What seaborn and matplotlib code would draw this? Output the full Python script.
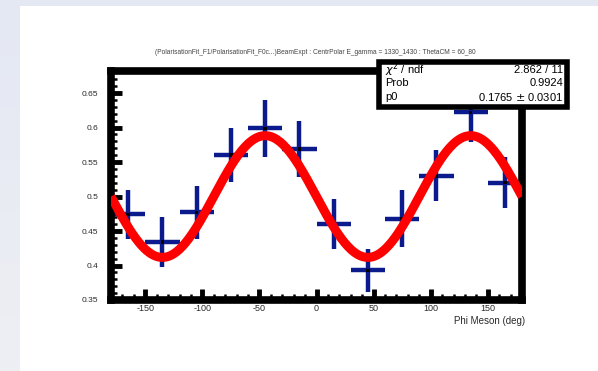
import numpy as np
import pandas as pd
import seaborn as sns
import matplotlib
matplotlib.use("Agg")
import matplotlib.pyplot as plt
from matplotlib.patches import Rectangle
from matplotlib.ticker import MultipleLocator, FixedLocator

# Measured asymmetry points (bin centres in degrees)
phi_centres = [-165, -135, -105, -75, -45, -15, 15, 45, 75, 105, 135, 165]
yield_vals = [0.474, 0.434, 0.477, 0.560, 0.599, 0.569, 0.460, 0.393, 0.468, 0.530, 0.622, 0.520]
yield_errs = [0.035, 0.036, 0.039, 0.039, 0.041, 0.041, 0.036, 0.031, 0.041, 0.037, 0.043, 0.037]
bin_half_width = 15

# Fit result
p0_value = 0.1765
p0_error = 0.0301
chi2_text = "2.862 / 11"
prob_text = "0.9924"

x_ticks = [-150, -100, -50, 0, 50, 100, 150]
y_ticks = [0.35, 0.4, 0.45, 0.5, 0.55, 0.6, 0.65]
title_text = ("(PolarisationFit_F1/PolarisationFit_F0c...)BeamExpt : CentrPolar "
              "E_gamma = 1330_1430 : ThetaCM = 60_80")
x_label = "Phi Meson (deg)"

sns.set_style("white")
plt.rcParams["font.family"] = ["Liberation Sans", "DejaVu Sans"]

W, H = 598, 371
fig = plt.figure(figsize=(W / 100, H / 100), dpi=100)
fig.patch.set_facecolor("white")

# slide background strips
strip = fig.add_axes([0, 0, 20 / W, 1])
grad = np.linspace(0, 1, 100)[:, None]
strip.imshow(grad, aspect="auto", cmap=matplotlib.colors.LinearSegmentedColormap.from_list(
    "bg", ["#e4e8f3", "#eeeff3"]), extent=[0, 1, 0, 1], origin="upper")
strip.set_axis_off()
fig.patches.append(Rectangle((0, 1 - 6 / H), 1, 6 / H, transform=fig.transFigure,
                             facecolor="#e4e8f3", edgecolor="none", zorder=0))

ax = fig.add_axes([111 / W, 1 - 300 / H, (522 - 111) / W, (300 - 71) / H])
ax.set_facecolor("white")

df = pd.DataFrame({"phi": phi_centres, "val": yield_vals, "err": yield_errs})

ax.errorbar(df["phi"], df["val"], yerr=df["err"], xerr=bin_half_width,
            fmt="none", ecolor="#0b1a8c", elinewidth=3.2, capsize=0, zorder=2)
sns.scatterplot(data=df, x="phi", y="val", ax=ax, marker="s", s=6,
                color="black", edgecolor="none", zorder=3, legend=False)

# fitted curve: 0.5 * (1 + p0 * cos(2*(phi + 45 deg)))
phi_grid = np.linspace(-180, 180, 400)
fit = pd.DataFrame({"phi": phi_grid,
                    "val": 0.5 * (1 + p0_value * np.cos(np.deg2rad(2 * (phi_grid + 45))))})
sns.lineplot(data=fit, x="phi", y="val", ax=ax, color="#ff0000", linewidth=6.5,
             zorder=4, solid_capstyle="butt")

ax.set_xlim(-180, 180)
ax.set_ylim(0.35, 0.682)
ax.xaxis.set_major_locator(FixedLocator(x_ticks))
ax.xaxis.set_minor_locator(MultipleLocator(10))
ax.yaxis.set_major_locator(FixedLocator(y_ticks))
ax.yaxis.set_minor_locator(MultipleLocator(0.01))
ax.set_xticklabels([str(t) for t in x_ticks])
ax.set_yticklabels([f"{t:g}" for t in y_ticks])
ax.tick_params(axis="both", which="major", direction="in", length=8, width=3.5,
               color="black", labelcolor="#2a2a2a")
ax.tick_params(axis="both", which="minor", direction="in", length=4, width=1.8, color="black")
ax.tick_params(axis="y", which="both", left=True, right=False, pad=9, labelsize=6)
ax.tick_params(axis="x", which="both", bottom=True, top=False, pad=3, labelsize=6.5)
for side in ax.spines.values():
    side.set_linewidth(5.5)
    side.set_color("black")
ax.set_xlabel("")
ax.set_ylabel("")

fig.text(525 / W, 1 - 321 / H, x_label, ha="right", va="center", fontsize=7, color="#2a2a2a")
fig.text(315 / W, 1 - 52 / H, title_text, ha="center", va="center", fontsize=4.8, color="#444444")

# statistics box
bx0, bx1, by0, by1 = 379, 567, 62, 107
fig.patches.append(Rectangle((bx0 / W, 1 - by1 / H), (bx1 - bx0) / W, (by1 - by0) / H,
                             transform=fig.transFigure, facecolor="white", edgecolor="black",
                             linewidth=4, zorder=10))
rows = [("$\\chi^2$ / ndf", chi2_text, 70),
        ("Prob", prob_text, 83),
        ("p0", f"{p0_value:.4f} $\\pm$ {p0_error:.4f}", 97)]
for left, right, yy in rows:
    fig.text(385 / W, 1 - yy / H, left, ha="left", va="center", fontsize=8, color="black", zorder=11)
    fig.text(563 / W, 1 - yy / H, right, ha="right", va="center", fontsize=8, color="black", zorder=11)

fig.savefig("out.png", dpi=100, facecolor=fig.get_facecolor())
